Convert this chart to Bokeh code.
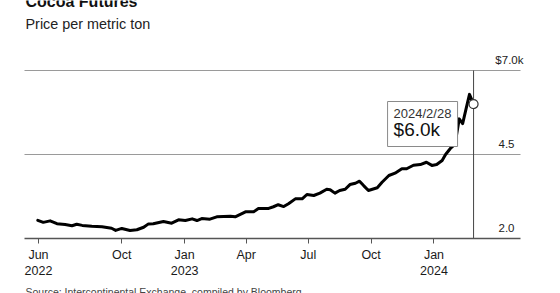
import numpy as np
import pandas as pd
from bokeh.plotting import figure
from bokeh.models import Range1d, FixedTicker, CustomJSTickFormatter, Label
from bokeh.core.properties import value
from bokeh.embed import file_html
from bokeh.resources import INLINE

# ---- text ----
title = "Cocoa Futures"
subtitle = "Price per metric ton"
source_note = "Source: Intercontinental Exchange, compiled by Bloomberg"

# ---- cocoa futures, USD per metric ton ----
dates = [
    "2022-05-31", "2022-06-08", "2022-06-18", "2022-06-28", "2022-07-10",
    "2022-07-20", "2022-07-27", "2022-08-04", "2022-08-18", "2022-09-02",
    "2022-09-16", "2022-09-22", "2022-10-01", "2022-10-13", "2022-10-23",
    "2022-11-02", "2022-11-09", "2022-11-16", "2022-12-01", "2022-12-13",
    "2022-12-23", "2023-01-02", "2023-01-12", "2023-01-19", "2023-01-26",
    "2023-02-07", "2023-02-17", "2023-02-27", "2023-03-09", "2023-03-16",
    "2023-03-31", "2023-04-12", "2023-04-19", "2023-05-04", "2023-05-11",
    "2023-05-18", "2023-05-26", "2023-06-02", "2023-06-12", "2023-06-22",
    "2023-06-29", "2023-07-09", "2023-07-18", "2023-07-28", "2023-08-02",
    "2023-08-09", "2023-08-16", "2023-08-24", "2023-08-31", "2023-09-08",
    "2023-09-14", "2023-09-20", "2023-09-27", "2023-10-10", "2023-10-17",
    "2023-10-27", "2023-11-05", "2023-11-15", "2023-11-22", "2023-12-02",
    "2023-12-12", "2023-12-21", "2023-12-29", "2024-01-05", "2024-01-13",
    "2024-01-18", "2024-01-25", "2024-01-30", "2024-02-03", "2024-02-07",
    "2024-02-12", "2024-02-17", "2024-02-22", "2024-02-28",
]
prices = [
    2540, 2480, 2525, 2440, 2415,
    2380, 2425, 2390, 2365, 2350,
    2305, 2240, 2300, 2240, 2260,
    2335, 2435, 2440, 2505, 2455,
    2555, 2535, 2585, 2535, 2595,
    2575, 2645, 2655, 2665, 2645,
    2795, 2795, 2890, 2895, 2945,
    3005, 2950, 3035, 3180, 3180,
    3310, 3280, 3350, 3465, 3450,
    3350, 3430, 3465, 3605, 3645,
    3705, 3575, 3430, 3510, 3675,
    3875, 3945, 4075, 4075, 4180,
    4200, 4270, 4175, 4200, 4320,
    4500, 4680, 4770, 5070, 5560,
    5420, 5860, 6290, 6000,
]

# ---- axes ----
tick_dates = ["2022-06-01", "2022-10-01", "2023-01-01", "2023-04-01",
              "2023-07-01", "2023-10-01", "2024-01-01"]
tick_labels = ["Jun\n2022", "Oct", "Jan\n2023", "Apr", "Jul", "Oct", "Jan\n2024"]

level_values = [2.0, 4.5, 7.0]          # thousand USD
level_labels = ["2.0", "4.5", "$7.0k"]

FONT = "Liberation Sans"
W, H = 560, 293

# canvas geometry (pixels from the top-left corner)
PLOT_L, PLOT_R = 24, 520          # extent of the rules and date axis
AXIS_Y, TOP_RULE_Y = 238, 70      # pixel rows of 2.0 and 7.0
PX_PER_DAY = 0.683
DAY_MS = 86400000.0


def to_ms(s):
    return pd.Timestamp(s).value / 1e6


x = [to_ms(d) for d in dates]
y = [v / 1000 for v in prices]
tick_ms = [to_ms(d) for d in tick_dates]

# the frame fills the whole canvas; ranges are set so Jun 1 2022 sits at px 38
x_start = to_ms("2022-06-01") - 38 / PX_PER_DAY * DAY_MS
x_end = x_start + W / PX_PER_DAY * DAY_MS
x_left = x_start + PLOT_L / PX_PER_DAY * DAY_MS
x_right = x_start + PLOT_R / PX_PER_DAY * DAY_MS

px_per_unit = (AXIS_Y - TOP_RULE_Y) / (level_values[-1] - level_values[0])
y_end = level_values[-1] + TOP_RULE_Y / px_per_unit
y_start = level_values[0] - (H - AXIS_Y) / px_per_unit
px_per_ms = PX_PER_DAY / DAY_MS

p = figure(
    width=W, height=H,
    x_axis_type="datetime",
    x_range=Range1d(x_start, x_end), y_range=Range1d(y_start, y_end),
    y_axis_location=None,
    toolbar_location=None, output_backend="svg",
    min_border=0,
    background_fill_color="white", border_fill_color="white",
    outline_line_color=None,
)
p.xgrid.visible = False
p.ygrid.visible = False

# date axis sitting on the 2.0 level
ax = p.xaxis[0]
ax.fixed_location = level_values[0]
ax.bounds = (x_left, x_right)
ax.ticker = FixedTicker(ticks=tick_ms)
ax.formatter = CustomJSTickFormatter(
    args=dict(tick_pos=tick_ms, tick_text=tick_labels),
    code="""
        let best = 0;
        for (let k = 1; k < tick_pos.length; k++) {
            if (Math.abs(tick_pos[k] - tick) < Math.abs(tick_pos[best] - tick)) best = k;
        }
        return tick_text[best];
    """,
)
ax.axis_line_color = "#555555"
ax.axis_line_width = 1.5
ax.major_tick_line_color = "#555555"
ax.major_tick_in = 0
ax.major_tick_out = 5
ax.minor_tick_line_color = None
ax.major_label_text_font = FONT
ax.major_label_text_font_size = "12.5px"
ax.major_label_text_color = "#1a1a1a"
ax.major_label_standoff = 4

# horizontal reference rules
upper = level_values[1:]
p.segment(x0=[x_left] * len(upper), y0=upper, x1=[x_right] * len(upper), y1=upper,
          line_color="#9a9a9a", line_width=1.2)

last_x, last_y = x[-1], y[-1]
last_day = pd.Timestamp(dates[-1])

# vertical marker at the latest close
p.segment(x0=[last_x], y0=[level_values[0]], x1=[last_x], y1=[level_values[-1]],
          line_color="#444444", line_width=1)

# price line
p.line(x, y, line_color="black", line_width=3, line_join="round", line_cap="round")

# callout box for the latest value (pixel offsets converted through the scales)
p.quad(left=[last_x - 86 / px_per_ms], right=[last_x - 16 / px_per_ms],
       top=[last_y + 2.6 / px_per_unit], bottom=[last_y - 42.4 / px_per_unit],
       fill_color="white", line_color="#8a8a8a", line_width=1)
p.text(x=[last_x], y=[last_y], text=[f"{last_day.year}/{last_day.month}/{last_day.day}"],
       x_offset=-80, y_offset=9.5, text_font=value(FONT), text_font_size="13px",
       text_baseline="middle", text_color="#333333")
p.text(x=[last_x], y=[last_y], text=[f"${prices[-1] / 1000:.1f}k"],
       x_offset=-80, y_offset=25, text_font=value(FONT), text_font_size="19px",
       text_baseline="middle", text_color="#111111")

# end point marker
p.scatter([last_x], [last_y], marker="circle", size=9,
          fill_color="white", line_color="#333333", line_width=1.2)

# level labels on the right
for v, lbl in zip(level_values, level_labels):
    hang = 9 if lbl.endswith("k") else 0
    p.add_layout(Label(x=514 + hang, y=v, x_units="screen", y_units="data",
                       y_offset=11, text=lbl, text_align="right",
                       text_baseline="middle", text_font=FONT,
                       text_font_size="11.5px", text_color="#222222"))

# heading and footer (screen units measured from the bottom-left corner)
p.add_layout(Label(x=25, y=H - 1.4, x_units="screen", y_units="screen",
                   text=title, text_font=FONT, text_font_style="bold",
                   text_font_size="16px", text_baseline="middle",
                   text_color="#111111"))
p.add_layout(Label(x=25, y=H - 23, x_units="screen", y_units="screen",
                   text=subtitle, text_font=FONT, text_font_size="14.4px",
                   text_baseline="middle", text_color="#222222"))
p.add_layout(Label(x=25, y=H - 291.5, x_units="screen", y_units="screen",
                   text=source_note, text_font=FONT, text_font_size="10.5px",
                   text_baseline="middle", text_color="#444444"))

open("out.html", "w").write(file_html(p, INLINE))
